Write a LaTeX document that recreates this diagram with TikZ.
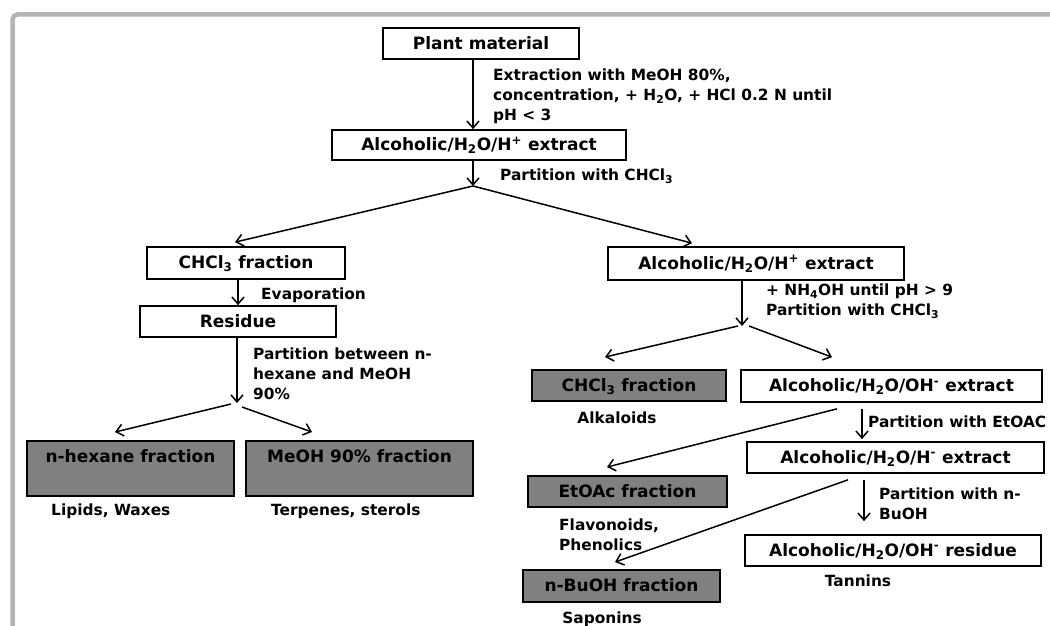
\documentclass[tikz,border=0pt]{standalone}
\usepackage{fontspec}
\setmainfont{DejaVu Sans}
\usetikzlibrary{arrows.meta}
\definecolor{boxgray}{HTML}{808080}
\definecolor{framegray}{HTML}{B4B4B4}

\begin{document}
\begin{tikzpicture}[x=1pt, y=-1pt,
        box/.style={draw=black, line width=1.7pt, fill=white, inner sep=0pt, text height=11.5pt, text depth=0pt, font=\fontsize{17}{20}\selectfont\bfseries},
        graybox/.style={box, fill=boxgray, line width=1.9pt},
        tallbox/.style={graybox, minimum height=55pt, text height=21.5pt, text depth=33.5pt},
        lbl/.style={inner sep=0pt, align=left, font=\fontsize{15.4}{20}\selectfont\bfseries},
        arr/.style={-{Straight Barb[length=7pt,width=12pt]}, line width=1.5pt}]
        \useasboundingbox (0,0) rectangle (1050,626);
        \clip (0,0) rectangle (1050,626);
        \draw[framegray, line width=4.5pt, rounded corners=5pt] (12.5,640) -- (12.5,14.5) -- (1065,14.5);
        \coordinate (split1) at (473,186);
        \coordinate (split2) at (237,403);
        \coordinate (split3) at (742,326);
        \node[box, minimum width=196pt, minimum height=31pt] (plant) at (481,43.5) {Plant material};
        \node[box, minimum width=294pt, minimum height=30pt] (ext1) at (479,145) {Alcoholic/H\textsubscript{2}O/H\textsuperscript{+} extract};
        \node[box, minimum width=198pt, minimum height=32pt] (chcl) at (246,263) {CHCl\textsubscript{3} fraction};
        \node[box, minimum width=196pt, minimum height=31pt] (resid) at (238,321.5) {Residue};
        \node[tallbox, minimum width=207pt] (hex) at (130.5,468.5) {n-hexane fraction};
        \node[tallbox, minimum width=227pt] (meoh) at (359.5,468.5) {MeOH 90\% fraction};
        \node[box, minimum width=296pt, minimum height=33pt] (ext2) at (756,263.5) {Alcoholic/H\textsubscript{2}O/H\textsuperscript{+} extract};
        \node[graybox, minimum width=194pt, minimum height=31pt] (alkf) at (629,385.5) {CHCl\textsubscript{3} fraction};
        \node[box, minimum width=301pt, minimum height=32pt] (ohext) at (891.5,386) {Alcoholic/H\textsubscript{2}O/OH\textsuperscript{-} extract};
        \node[box, minimum width=297pt, minimum height=31pt] (hext) at (895.5,457.5) {Alcoholic/H\textsubscript{2}O/H\textsuperscript{-} extract};
        \node[graybox, minimum width=199pt, minimum height=31pt] (etoac) at (627.5,491.5) {EtOAc fraction};
        \node[box, minimum width=296pt, minimum height=31pt] (resid2) at (893,550.5) {Alcoholic/H\textsubscript{2}O/OH\textsuperscript{-} residue};
        \node[graybox, minimum width=197pt, minimum height=32pt] (buoh) at (621.5,586) {n-BuOH fraction};
        \node[lbl, anchor=north west] (extl) at (493,69) {Extraction with MeOH 80\%,\\concentration, + H\textsubscript{2}O, + HCl 0.2 N until\\pH < 3};
        \node[lbl, anchor=north west] (part1) at (500,169) {Partition with CHCl\textsubscript{3}};
        \node[lbl, anchor=north west] (evap) at (261,288) {Evaporation};
        \node[lbl, anchor=north west] (part2) at (253,348) {Partition between n-\\hexane and MeOH\\90\%};
        \node[lbl, anchor=north west] (lipid) at (51,504) {Lipids, Waxes};
        \node[lbl, anchor=north west] (terp) at (271,504) {Terpenes, sterols};
        \node[lbl, anchor=north west] (nh4) at (766,284) {+ NH\textsubscript{4}OH until pH > 9\\Partition with CHCl\textsubscript{3}};
        \node[lbl, anchor=north] (alk) at (617,412) {Alkaloids};
        \node[lbl, anchor=north west] (part3) at (868,416) {Partition with EtOAC};
        \node[lbl, anchor=north west] (part4) at (879,488) {Partition with n-\\BuOH};
        \node[lbl, anchor=north west] (flav) at (559,519) {Flavonoids,\\Phenolics};
        \node[lbl, anchor=north] (tann) at (858,575) {Tannins};
        \node[lbl, anchor=north] (sapo) at (602,612) {Saponins};
        \draw[arr] (plant.south -| split1) -- (ext1.north -| split1);
        \draw[arr] (ext1.south -| split1) -- (split1);
        \draw[arr] (split1) -- ([xshift=-11pt,yshift=4pt]chcl.north);
        \draw[arr] (split1) -- ([xshift=-64pt,yshift=3pt]ext2.north);
        \draw[arr] (chcl.south -| resid) -- (resid.north);
        \draw[arr] (resid.south -| split2) -- (split2);
        \draw[arr] ([xshift=-6pt,yshift=-1pt]split2) -- ([xshift=-15.5pt,yshift=8pt]hex.north);
        \draw[arr] ([xshift=5pt,yshift=-4pt]split2) -- ([xshift=-47.5pt,yshift=8pt]meoh.north);
        \draw[arr] (ext2.south -| split3) -- (split3);
        \draw[arr] ([xshift=-4pt]split3) -- ([xshift=-24pt,yshift=12pt]alkf.north);
        \draw[arr] ([xshift=7pt]split3) -- ([xshift=-59.5pt,yshift=12pt]ohext.north);
        \draw[arr] ([xshift=-54.5pt,yshift=-6pt]ohext.south) -- ([xshift=-20.5pt,yshift=8pt]etoac.north);
        \draw[arr] ([xshift=-29.5pt,yshift=-6pt]ohext.south) -- ([xshift=-33.5pt,yshift=2pt]hext.north);
        \draw[arr] ([xshift=-47.5pt,yshift=-6pt]hext.south) -- ([xshift=-6.5pt,yshift=7pt]buoh.north);
        \draw[arr] ([xshift=-31.5pt,yshift=-6pt]hext.south) -- ([xshift=-29pt,yshift=13pt]resid2.north);
    \end{tikzpicture}
\end{document}
